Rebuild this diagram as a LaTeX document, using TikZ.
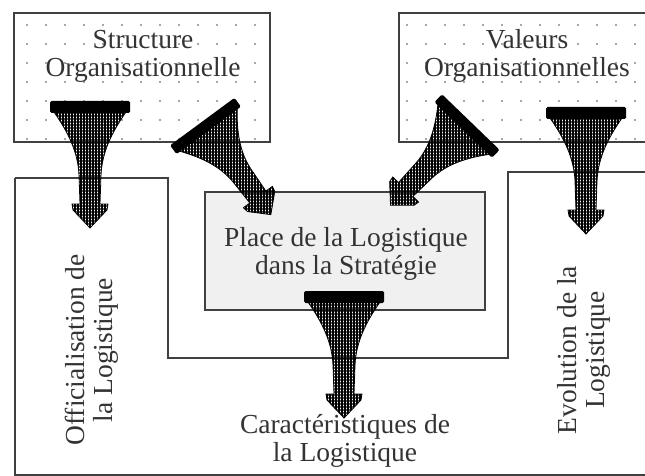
\documentclass[tikz,border=0pt]{standalone}
\usepackage{fontspec}
\setmainfont{Liberation Serif}
\usetikzlibrary{patterns.meta}
\tikzset{
  boxline/.style={draw=black!75, line width=1.6pt},
  lbl/.style={font=\fontsize{27.5}{28}\selectfont, text=black!80, align=center, inner sep=0pt},
  hatchfill/.style={pattern={Hatch[angle=0,distance=3pt,line width=1.3pt]}, pattern color=black},
  dotmark/.style={fill=black!70},
}
\newcommand\funnel[4]{%
 \begin{scope}[shift={#1},rotate=#2,yscale=#3]
  \draw[hatchfill, draw=black, line width=0.8pt] (-36,5) -- (36,5)
    .. controls (22,25) and (12,45) .. (11,68) -- (10,97) -- (18,97) -- (17,103) -- (0,121)
    -- (-17,103) -- (-18,97) -- (-10,97) -- (-11,68)
    .. controls (-12,45) and (-22,25) .. (-36,5) -- cycle;
  \fill[black, rounded corners=1.5pt] (-40,-6) rectangle (40,6);
  \coordinate (#4) at (0,121);
 \end{scope}}
\begin{document}
\begin{tikzpicture}[x=1pt,y=-1pt]
\useasboundingbox (0,0) rectangle (645,476);
\clip (0,0) rectangle (645,476);
% top boxes
\node[boxline, minimum width=256pt, minimum height=129pt, inner sep=0pt] (sbox) at (142,77.5) {};
\node[boxline, minimum width=260pt, minimum height=129pt, inner sep=0pt] (vbox) at (529,77.5) {};
\begin{scope}
 \clip (14,13) rectangle (270,142);
 \foreach \x in {27,46,...,270} \foreach \y in {25,44,...,142} \fill[dotmark] (\x,\y) circle (0.9pt);
\end{scope}
\begin{scope}
 \clip (399,13) rectangle (660,142);
 \foreach \x in {407,426,...,660} \foreach \y in {25,44,...,142} \fill[dotmark] (\x,\y) circle (0.9pt);
\end{scope}
% outer frame
\draw[boxline, line join=miter] (15,178) -- (168,178) -- (168,358) -- (508,358) -- (508,172) -- (660,172);
\draw[boxline, line join=miter] (15,178) -- (15,475) -- (660,475);
% middle box
\node[boxline, fill=black!6, minimum width=280pt, minimum height=118pt, inner sep=0pt] (pbox) at (345,251) {};
% texts
\node[lbl] (stext) at (143,56) {Structure\\Organisationnelle};
\node[lbl] (vtext) at (527,56) {Valeurs\\Organisationnelles};
\node[lbl] (ptext) at (346,254) {Place de la Logistique\\dans la Stratégie};
\node[lbl] (ctext) at (345,441) {Caractéristiques de\\la Logistique};
\node[lbl, rotate=90] (otext) at (92,350) {Officialisation de\\la Logistique};
\node[lbl, rotate=90] (etext) at (584,350) {Evolution de la\\Logistique};
% funnel arrows
\funnel{(90,107)}{0}{1}{t1}
\funnel{(205.5,126)}{36.4}{0.91}{t2}
\funnel{(467,126)}{-44}{0.91}{t3}
\funnel{(586,113)}{0}{1}{t4}
\funnel{(344,297)}{0}{1}{t5}
\end{tikzpicture}
\end{document}
